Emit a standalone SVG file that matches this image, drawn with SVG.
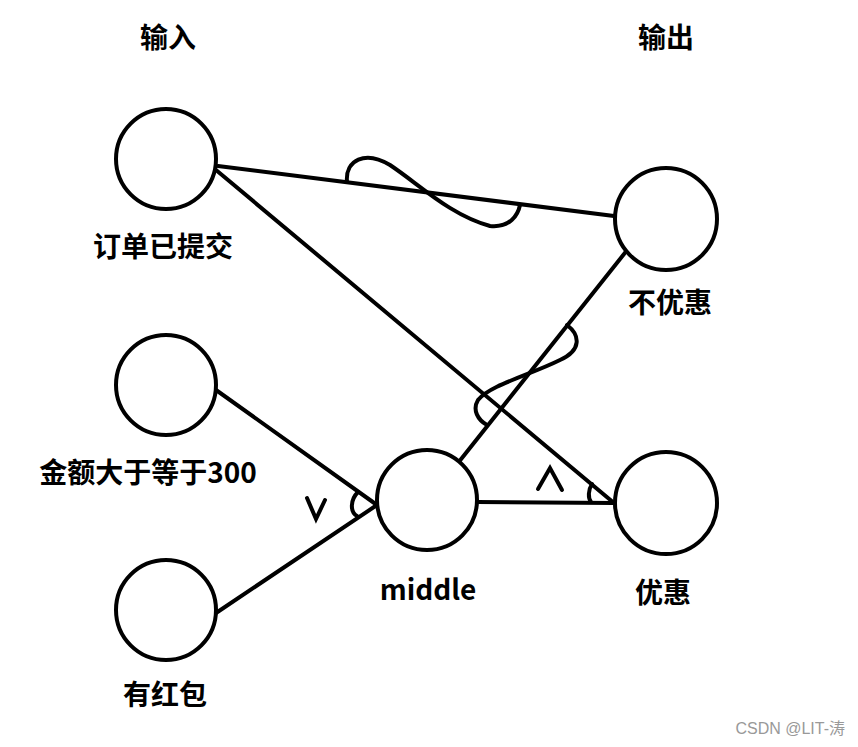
<svg xmlns="http://www.w3.org/2000/svg" width="858" height="747" viewBox="0 0 858 747">
<style>
.n{fill:#fff;stroke:#000;stroke-width:4}
.e{fill:none;stroke:#000;stroke-width:4;stroke-linecap:round}
.t{font-family:"Noto Sans CJK SC","Liberation Sans",sans-serif;font-weight:bold;font-size:28px;text-anchor:middle}
</style>
<rect width="858" height="747" fill="#fff"/>
<g id="connectors">
<path class="e" d="M218,166 L614,216"/>
<path class="e" d="M216,170 L614,503"/>
<path class="e" d="M216,390 L377,505"/>
<path class="e" d="M216,613 L377,505"/>
<path class="e" d="M477,502 L614,503"/>
<path class="e" d="M458,463 L628,249"/>
<path class="e" d="M347,182 C345,160 365,150 390,165 C420,185 450,215 490,226 C510,228 518,215 520,205"/>
<path class="e" d="M567,325 C580,335 582,350 560,360 C530,375 490,385 478,400 C472,410 478,420 487,425"/>
<path class="e" d="M358,492 C350,500 350,512 357,516"/>
<path class="e" d="M592,484 C588,490 588,498 591,502"/>
<path class="e" d="M307,498 L316,519 L325,500"/>
<path class="e" d="M538,489 L550,468 L562,490"/>
</g>
<g id="n1"><circle class="n" cx="166" cy="159" r="50"/><text class="t" x="163" y="257">订单已提交</text></g>
<g id="n2"><circle class="n" cx="166" cy="385" r="50"/><text class="t" x="148" y="483">金额大于等于300</text></g>
<g id="n3"><circle class="n" cx="166" cy="610" r="50"/><text class="t" x="165" y="705">有红包</text></g>
<g id="n4"><circle class="n" cx="427" cy="500" r="50"/><text class="t" x="428" y="600">middle</text></g>
<g id="n5"><circle class="n" cx="666" cy="219" r="51"/><text class="t" x="670" y="313">不优惠</text></g>
<g id="n6"><circle class="n" cx="666" cy="503" r="51"/><text class="t" x="663" y="603">优惠</text></g>
<text class="t" x="168" y="48">输入</text>
<text class="t" x="666" y="48">输出</text>
<text x="845" y="734" text-anchor="end" font-family="Liberation Sans,Noto Sans CJK SC,sans-serif" font-size="16" fill="#999">CSDN @LIT-涛</text>
</svg>
